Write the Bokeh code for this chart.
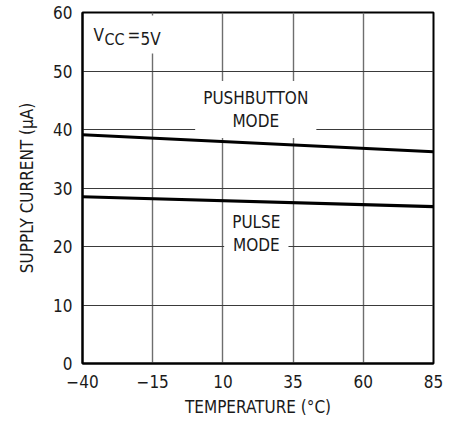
from bokeh.plotting import figure
from bokeh.models import Range1d, FixedTicker, Label
from bokeh.embed import file_html
from bokeh.resources import INLINE

# ---- data ----
temps = [-40, 85]
pushbutton = [39.1, 36.2]
pulse = [28.5, 26.8]
x_ticks = [-40, -15, 10, 35, 60, 85]
x_tick_labels = ["\u221240", "\u221215", "10", "35", "60", "85"]
y_ticks = [0, 10, 20, 30, 40, 50, 60]
y_tick_labels = ["0", "10", "20", "30", "40", "50", "60"]

FONT = "'DejaVu Sans Condensed', 'Liberation Sans Narrow', sans-serif"
TXT = "#1a1a1a"
FS = "17px"

p = figure(width=454, height=421, output_backend="svg", toolbar_location=None,
           x_range=Range1d(-40, 85), y_range=Range1d(0, 60),
           min_border_left=82, min_border_right=21, min_border_top=12, min_border_bottom=58)

p.xaxis.ticker = FixedTicker(ticks=x_ticks)
p.yaxis.ticker = FixedTicker(ticks=y_ticks)
p.xaxis.major_label_overrides = {t: l for t, l in zip(x_ticks, x_tick_labels)}
p.yaxis.major_label_overrides = {t: l for t, l in zip(y_ticks, y_tick_labels)}

for ax in (p.xaxis, p.yaxis):
    ax.major_tick_out = 0
    ax.major_tick_in = 0
    ax.minor_tick_out = 0
    ax.minor_tick_in = 0
    ax.axis_line_color = "black"
    ax.axis_line_width = 2
    ax.major_label_text_font = FONT
    ax.major_label_text_font_size = FS
    ax.major_label_text_color = TXT
    ax.axis_label_text_font = FONT
    ax.axis_label_text_font_size = FS
    ax.axis_label_text_font_style = "normal"
    ax.axis_label_text_color = TXT

p.xaxis.axis_label = "TEMPERATURE (\u00b0C)"
p.yaxis.axis_label = "SUPPLY CURRENT (\u03bcA)"
p.xaxis.major_label_standoff = 11
p.yaxis.major_label_standoff = 10
p.xaxis.axis_label_standoff = 6
p.yaxis.axis_label_standoff = 13

p.outline_line_color = "black"
p.outline_line_width = 2
p.outline_line_alpha = 1

p.xgrid.grid_line_color = "#6e6e6e"
p.xgrid.grid_line_width = 1.4
p.ygrid.grid_line_color = "#3a3a3a"
p.ygrid.grid_line_width = 1

p.line(temps, pushbutton, line_color="black", line_width=3.2)
p.line(temps, pulse, line_color="black", line_width=3.2)

# padding: (horizontal, vertical) / (left, right, top, bottom)
lab_common = dict(text_font=FONT, text_font_size=FS, text_color=TXT,
                  background_fill_color="white", text_align="center",
                  text_baseline="middle", text_line_height=1.15)
p.add_layout(Label(x=21.7, y=43.4, text="PUSHBUTTON\nMODE", padding=(8, 7), **lab_common))
p.add_layout(Label(x=21.9, y=22.3, text="PULSE\nMODE", padding=(8, 3), **lab_common))

# V_CC = 5V  (white-backed part first so the other pieces draw on top)
p.add_layout(Label(x=-40, y=60, x_offset=57, y_offset=-22, text="5V",
                   text_font=FONT, text_font_size=FS, text_color=TXT,
                   text_align="left", text_baseline="middle",
                   background_fill_color="white", padding=(1, 1, 13, 5)))
p.add_layout(Label(x=-40, y=60, x_offset=11, y_offset=-22, text="V",
                   text_font=FONT, text_font_size=FS, text_color=TXT,
                   text_align="left", text_baseline="middle"))
p.add_layout(Label(x=-40, y=60, x_offset=22, y_offset=-27, text="CC",
                   text_font=FONT, text_font_size="16px", text_color=TXT,
                   text_align="left", text_baseline="middle"))
p.add_layout(Label(x=-40, y=60, x_offset=45, y_offset=-22, text="=",
                   text_font=FONT, text_font_size=FS, text_color=TXT,
                   text_align="left", text_baseline="middle"))

open("out.html", "w").write(file_html(p, INLINE))
